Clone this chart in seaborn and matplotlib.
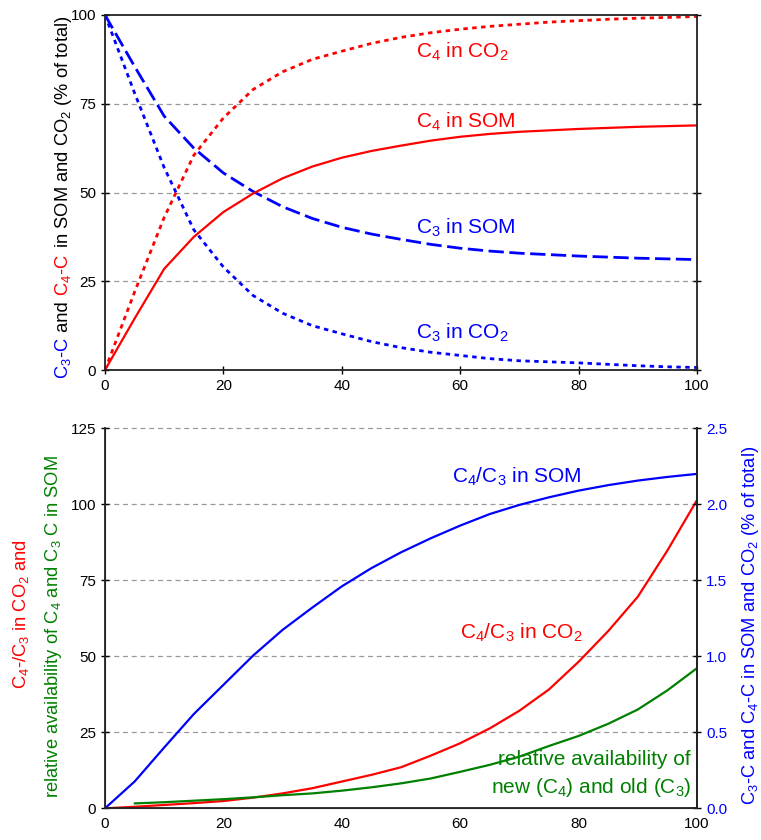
import matplotlib
matplotlib.use("Agg")
import matplotlib.pyplot as plt
import seaborn as sns
import pandas as pd

# ---------------- data ----------------
years = [0, 5, 10, 15, 20, 25, 30, 35, 40, 45, 50, 55, 60, 65, 70, 75, 80, 85, 90, 95, 100]

c4_som = [0, 14.5, 28.5, 37.5, 44.5, 49.7, 54.0, 57.3, 59.8, 61.7, 63.2, 64.6, 65.7, 66.5,
          67.1, 67.5, 67.9, 68.2, 68.5, 68.7, 68.9]
c3_som = [100, 85.5, 71.5, 62.5, 55.5, 50.3, 46.0, 42.7, 40.2, 38.3, 36.8, 35.4, 34.3, 33.5,
          32.9, 32.5, 32.1, 31.8, 31.5, 31.3, 31.1]
c4_co2 = [0, 22, 43, 60.5, 71, 79, 84, 87.5, 89.8, 92, 93.7, 95, 96, 96.8, 97.4, 98, 98.4,
          98.8, 99.1, 99.3, 99.6]
c3_co2 = [100, 78, 57, 39.5, 29, 21, 16, 12.5, 10.2, 8, 6.3, 5, 4.1, 3.2, 2.6, 2.3, 2.0,
          1.6, 1.2, 0.9, 0.7]

ratio_som = [0, 8.8, 20, 31, 40.6, 50.2, 58.7, 66, 73, 79, 84.2, 88.8, 93, 96.8, 99.8,
             102.3, 104.5, 106.3, 107.8, 109, 110]
ratio_co2 = [0, 0.5, 1.1, 1.7, 2.4, 3.5, 4.9, 6.6, 8.8, 11, 13.5, 17.3, 21.4, 26.3, 32.1,
             39.1, 48.2, 58.3, 69.6, 84.8, 101.4]
avail_years = [5, 10, 15, 20, 25, 30, 35, 40, 45, 50, 55, 60, 65, 70, 75, 80, 85, 90, 95, 100]
availability = [1.6, 2.0, 2.5, 3.0, 3.6, 4.3, 4.9, 5.8, 6.9, 8.2, 9.8, 12.0, 14.3, 17.0,
                20.5, 23.8, 27.8, 32.5, 38.8, 46.1]

x_ticks = [0, 20, 40, 60, 80, 100]
top_yticks = [0, 25, 50, 75, 100]
bot_yticks = [0, 25, 50, 75, 100, 125]
right_ticks = [0.0, 0.5, 1.0, 1.5, 2.0, 2.5]

BLUE = "#0000FF"
RED = "#FF0000"
GREEN = "#008000"

# ---------------- style ----------------
sns.set_style("white")
plt.rcParams["font.family"] = ["Liberation Sans", "DejaVu Sans"]
plt.rcParams["mathtext.fontset"] = "custom"
plt.rcParams["mathtext.rm"] = "Liberation Sans"
plt.rcParams["mathtext.it"] = "Liberation Sans:italic"
plt.rcParams["mathtext.bf"] = "Liberation Sans:bold"

W, H = 761, 840
fig = plt.figure(figsize=(W / 100, H / 100), dpi=100)

def frac_rect(x0, y0, x1, y1):
    return [x0 / W, 1 - y1 / H, (x1 - x0) / W, (y1 - y0) / H]

ax1 = fig.add_axes(frac_rect(105, 15, 697, 370))
ax2 = fig.add_axes(frac_rect(105, 428.3, 697, 808.3))

GRID_KW = dict(color="#999999", lw=0.9, ls=(0, (4, 3)), zorder=0)
TICK = 11
ANN = 15

# ---------------- top panel ----------------
df_top = pd.DataFrame({"year": years, "c4_som": c4_som, "c3_som": c3_som,
                       "c4_co2": c4_co2, "c3_co2": c3_co2})
for yv in [25, 50, 75]:
    ax1.axhline(yv, **GRID_KW)
sns.lineplot(data=df_top, x="year", y="c4_co2", ax=ax1, color=RED, lw=2.0,
             ls=(0, (1.6, 1.6)))
sns.lineplot(data=df_top, x="year", y="c3_co2", ax=ax1, color=BLUE, lw=2.0,
             ls=(0, (1.6, 1.6)))
sns.lineplot(data=df_top, x="year", y="c3_som", ax=ax1, color=BLUE, lw=2.0,
             ls=(0, (5.5, 2.0)))
sns.lineplot(data=df_top, x="year", y="c4_som", ax=ax1, color=RED, lw=1.6)

ax1.set_xlim(0, 100)
ax1.set_ylim(0, 100)
ax1.set_xticks(x_ticks)
ax1.set_yticks(top_yticks)
ax1.set_xlabel("")
ax1.set_ylabel("")
ax1.tick_params(axis="both", labelsize=TICK, colors="black", length=6, width=1,
                direction="inout", right=True, left=True, bottom=True)
ax1.tick_params(axis="y", labelright=False)
for s in ax1.spines.values():
    s.set_color("#222222")
    s.set_linewidth(1.3)

ax1.text(52.5, 89.5, "C$_4$ in CO$_2$", color=RED, fontsize=ANN, va="center", ha="left")
ax1.text(52.5, 69.8, "C$_4$ in SOM", color=RED, fontsize=ANN, va="center", ha="left")
ax1.text(52.5, 40.0, "C$_3$ in SOM", color=BLUE, fontsize=ANN, va="center", ha="left")
ax1.text(52.5, 10.5, "C$_3$ in CO$_2$", color=BLUE, fontsize=ANN, va="center", ha="left")

# ---------------- bottom panel ----------------
df_bot = pd.DataFrame({"year": years, "ratio_som": ratio_som, "ratio_co2": ratio_co2})
df_av = pd.DataFrame({"year": avail_years, "availability": availability})
for yv in [25, 50, 75, 100, 125]:
    ax2.axhline(yv, clip_on=False, **GRID_KW)
sns.lineplot(data=df_bot, x="year", y="ratio_som", ax=ax2, color=BLUE, lw=1.6)
sns.lineplot(data=df_bot, x="year", y="ratio_co2", ax=ax2, color=RED, lw=1.6)
sns.lineplot(data=df_av, x="year", y="availability", ax=ax2, color=GREEN, lw=1.6)

ax2.set_xlim(0, 100)
ax2.set_ylim(0, 125)
ax2.set_xticks(x_ticks)
ax2.set_yticks(bot_yticks)
ax2.set_xlabel("")
ax2.set_ylabel("")
ax2.tick_params(axis="both", labelsize=TICK, colors="black", length=6, width=1,
                direction="inout")
ax2.spines["top"].set_visible(False)
for k in ["left", "bottom", "right"]:
    ax2.spines[k].set_color("#222222")
    ax2.spines[k].set_linewidth(1.3)

ax2r = ax2.twinx()
ax2r.set_ylim(0, 2.5)
ax2r.set_yticks(right_ticks)
ax2r.set_yticklabels([f"{v:.1f}" for v in right_ticks])
ax2r.tick_params(axis="y", labelsize=TICK, length=6, width=1, direction="inout",
                 labelcolor=BLUE, color="black")
ax2r.spines["top"].set_visible(False)
ax2r.spines["right"].set_color("#222222")
ax2r.spines["right"].set_linewidth(1.3)

ax2.text(58.6, 109.1, "C$_4$/C$_3$ in SOM", color=BLUE, fontsize=ANN, va="center", ha="left")
ax2.text(60.0, 57.7, "C$_4$/C$_3$ in CO$_2$", color=RED, fontsize=ANN, va="center", ha="left")
ax2.text(99.0, 15.9, "relative availability of", color=GREEN, fontsize=ANN,
         va="center", ha="right")
ax2.text(99.0, 6.7, "new (C$_4$) and old (C$_3$)", color=GREEN, fontsize=ANN,
         va="center", ha="right")

# ---------------- axis labels (rotated, multi-colour) ----------------
LAB = 13.2
renderer = fig.canvas.get_renderer()

def text_len(s, size):
    t = fig.text(0, 0, s, fontsize=size)
    w = t.get_window_extent(renderer).width
    t.remove()
    return w

def vlabel(x_px, yc_px, pieces, size):
    base = text_len("aa", size)
    lens = [text_len("a" + s + "a", size) - base for s, _ in pieces]
    total = sum(lens)
    y_img = yc_px + total / 2.0
    for (s, c), L in zip(pieces, lens):
        fig.text(x_px / W, (H - y_img) / H, s, color=c, fontsize=size, rotation=90,
                 rotation_mode="anchor", ha="left", va="baseline")
        y_img -= L

vlabel(68, 197, [("C$_3$-C", BLUE), (" and ", "black"), ("C$_4$-C", RED),
                 (" in SOM and CO$_2$ (% of total)", "black")], LAB)
vlabel(26, 613, [("C$_4$-/C$_3$ in CO$_2$ and", RED)], LAB)
vlabel(58, 626, [("relative availability of C$_4$ and C$_3$ C in SOM", GREEN)], LAB)
vlabel(755, 625, [("C$_3$-C and C$_4$-C in SOM and CO$_2$ (% of total)", BLUE)], LAB)

fig.savefig("out.png", dpi=100)
